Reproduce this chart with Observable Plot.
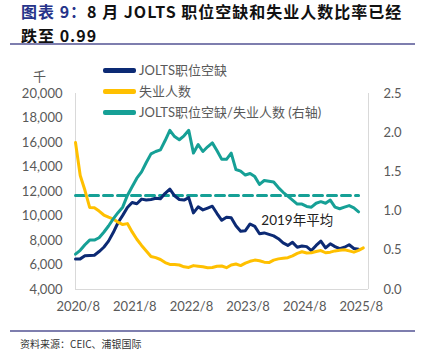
<!DOCTYPE html>
<html><head><meta charset="utf-8">
<script src="https://cdn.jsdelivr.net/npm/d3@7"></script>
<script src="https://cdn.jsdelivr.net/npm/@observablehq/plot@0.6"></script>
<style>
body{margin:0;background:#fff;}
#wrap{position:relative;width:423px;height:353px;overflow:hidden;font-family:Lato,"Noto Sans CJK SC",sans-serif;}
.title{position:absolute;left:21px;font-family:"Noto Sans CJK SC",sans-serif;font-weight:bold;font-size:16px;line-height:19px;height:19px;color:#111;white-space:nowrap;letter-spacing:1px;}
.rule{position:absolute;left:10px;width:405px;height:1.5px;background:#7E7EAE;}
#chart{position:absolute;left:0;top:48px;}
.leg{position:absolute;left:103px;height:14px;font-size:13px;color:#595959;white-space:nowrap;line-height:14px;font-family:Lato,"Noto Sans CJK SC",sans-serif;}
.sw{display:inline-block;width:33px;height:4.5px;border-radius:2px;vertical-align:middle;margin-right:3px;position:relative;top:-1px;}
#unit{position:absolute;left:33px;top:66px;font-size:13px;color:#595959;font-family:"Noto Sans CJK SC",sans-serif;}
#src{position:absolute;left:20px;top:336px;font-size:10px;color:#333;font-family:"Noto Sans CJK SC",sans-serif;}
</style></head>
<body>
<div id="wrap">
  <div class="title" style="top:2px"><span style="color:#26348A">图表 9：</span>8 月 JOLTS 职位空缺和失业人数比率已经</div>
  <div class="title" style="top:25.5px">跌至 0.99</div>
  <div class="rule" style="top:43px"></div>
  <div id="chart"></div>
  <div id="unit">千</div>
  <div id="legend"></div>
  <div class="rule" style="top:330px"></div>
  <div id="src">资料来源：CEIC、浦银国际</div>
</div>
<script>
// Monthly series; index -1 = 2020/7, index 0 = 2020/8, ... index 60 = 2025/8
const startIndex = -1;
const openings = [6500, 6500, 6750, 6780, 6800, 7100, 7450, 7950, 8650, 9450, 10050, 10700, 11100, 11000, 11380, 11300, 11350, 11450, 11400, 11850, 12200, 11650, 11350, 11300, 11500, 10250, 10750, 10500, 10650, 10800, 10200, 9650, 9900, 9850, 9200, 8750, 8800, 9350, 9150, 8550, 8620, 8500, 8380, 8150, 7800, 7600, 7850, 7450, 7550, 7500, 7180, 7600, 7950, 7400, 7730, 7500, 7330, 7450, 7650, 7350, 7280];
const unemployed = [16000, 13300, 12100, 10700, 10670, 10400, 10080, 9900, 9750, 9500, 9300, 9380, 8700, 8100, 7600, 7150, 6700, 6600, 6450, 6200, 6050, 6050, 6000, 5850, 5800, 5950, 5900, 5850, 5780, 5800, 5900, 5920, 5780, 6000, 6080, 5950, 6150, 6300, 6400, 6350, 6230, 6200, 6400, 6500, 6550, 6600, 6750, 6950, 7080, 6980, 7000, 7100, 7180, 7000, 7050, 7150, 7200, 7250, 7150, 7050, 7200, 7400];
const ratio = [0.45, 0.50, 0.57, 0.63, 0.63, 0.66, 0.73, 0.81, 0.90, 0.98, 1.05, 1.20, 1.31, 1.42, 1.50, 1.62, 1.73, 1.76, 1.78, 1.90, 2.03, 1.95, 1.91, 1.96, 2.03, 1.74, 1.85, 1.76, 1.82, 1.87, 1.77, 1.66, 1.66, 1.74, 1.53, 1.51, 1.46, 1.48, 1.44, 1.34, 1.39, 1.38, 1.37, 1.30, 1.24, 1.19, 1.14, 1.09, 1.09, 1.06, 1.05, 1.10, 1.12, 1.10, 1.14, 1.05, 1.03, 1.05, 1.07, 1.04, 0.99];
const avg2019 = 1.2;
const xTickIndex = [0, 12, 24, 36, 48, 60];
const xTickLabels = ["2020/8", "2021/8", "2022/8", "2023/8", "2024/8", "2025/8"];
const leftTicks = [4000, 6000, 8000, 10000, 12000, 14000, 16000, 18000, 20000];
const rightTicks = [0, 0.5, 1.0, 1.5, 2.0, 2.5];
const seriesNames = ["JOLTS职位空缺", "失业人数", "JOLTS职位空缺/失业人数 (右轴)"];
const colors = ["#0C2A74", "#FFC000", "#16A096"];

const leftMin = 4000, leftMax = 20000, rightMax = 2.5;
const toLeft = r => leftMin + r * (leftMax - leftMin) / rightMax;
const fromLeft = v => (v - leftMin) * rightMax / (leftMax - leftMin);

const rowsOpen = openings.map((v, k) => ({i: startIndex + k, v}));
const rowsUnemp = unemployed.map((v, k) => ({i: startIndex + k, v}));
const rowsRatio = ratio.map((r, k) => ({i: startIndex + k, v: toLeft(r)}));
const dashRows = [{i: startIndex, v: toLeft(avg2019)}, {i: startIndex + ratio.length - 1, v: toLeft(avg2019)}];
const xMin = -1, xMax = 61.1;

const chart = Plot.plot({
  width: 423, height: 277,
  marginTop: 45, marginBottom: 36, marginLeft: 75, marginRight: 55,
  style: {fontFamily: "Lato, 'Noto Sans CJK SC', sans-serif", fontSize: "13px", background: "transparent"},
  x: {type: "linear", domain: [xMin, xMax], axis: null, label: null},
  y: {domain: [leftMin, leftMax], axis: null, label: null},
  marks: [
    Plot.ruleX([xMin, xMax], {y1: leftMin, y2: leftMax, stroke: "#D9D9D9", strokeWidth: 1}),
    Plot.ruleY([leftMin], {x1: xMin, x2: xMax, stroke: "#D9D9D9", strokeWidth: 1}),
    Plot.axisY({ticks: leftTicks, label: null, tickSize: 0, tickPadding: 13, tickFormat: d3.format(","), fill: "#595959", fontSize: 13}),
    Plot.axisY({anchor: "right", label: null, ticks: rightTicks.map(toLeft), tickSize: 0, tickPadding: 15, textAnchor: "start", tickFormat: v => fromLeft(v).toFixed(1), fill: "#595959", fontSize: 13}),
    Plot.axisX({ticks: xTickIndex, label: null, tickSize: 0, tickPadding: 12, dx: -2, tickFormat: (d) => xTickLabels[xTickIndex.indexOf(d)], fill: "#595959", fontSize: 13}),
    Plot.line(dashRows, {x: "i", y: "v", stroke: colors[2], strokeWidth: 3, strokeDasharray: "9,5"}),
    Plot.line(rowsOpen, {x: "i", y: "v", stroke: colors[0], strokeWidth: 3, strokeLinejoin: "round"}),
    Plot.line(rowsUnemp, {x: "i", y: "v", stroke: colors[1], strokeWidth: 3, strokeLinejoin: "round"}),
    Plot.line(rowsRatio, {x: "i", y: "v", stroke: colors[2], strokeWidth: 3, strokeLinejoin: "round"}),
    Plot.text(["2019年平均"], {x: 46, y: toLeft(0.88), fill: "#222", fontSize: 13.5, fontFamily: "Lato, 'Noto Sans CJK SC', sans-serif"})
  ]
});
document.getElementById("chart").appendChild(chart);

const legend = document.getElementById("legend");
const legTops = [63, 84, 105];
seriesNames.forEach((name, k) => {
  const d = document.createElement("div");
  d.className = "leg";
  d.style.top = legTops[k] + "px";
  d.innerHTML = `<span class="sw" style="background:${colors[k]}"></span>${name}`;
  legend.appendChild(d);
});
</script>
</body></html>
